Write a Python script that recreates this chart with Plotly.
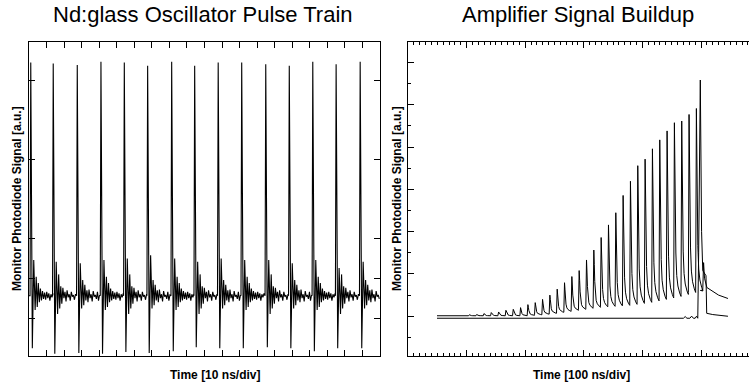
import plotly.graph_objects as go

# ---------------- Left panel: Nd:glass oscillator pulse train ----------------
# pulse peak times [div], peak heights, trough depths, secondary (ring) peaks [a.u.]
osc_peak_t = [0.10, 1.38, 2.75, 4.10, 5.43, 6.76, 8.13, 9.44, 10.78, 12.12, 13.49, 14.83, 16.17, 17.50, 18.87]
osc_peak_v = [3.22, 3.21, 3.19, 3.23, 3.22, 3.18, 3.23, 3.18, 3.22, 3.22, 3.20, 3.18, 3.23, 3.20, 3.23]
osc_trough_v = [-0.38, -0.45, -0.44, -0.45, -0.43, -0.44, -0.42, -0.37, -0.38, -0.38, -0.37, -0.38, -0.42, -0.38, -0.38]
osc_ring_v = [0.73, 0.71, 0.69, 0.73, 0.75, 0.79, 0.75, 0.71, 0.75, 0.73, 0.73, 0.69, 0.73, 0.63, 0.71]
osc_baseline = 0.28
# ringing / noise after each pulse (time offsets after the peak)
ring_dt = [0.25, 0.31, 0.37, 0.43, 0.49, 0.55, 0.61, 0.67, 0.73, 0.79, 0.85, 0.91, 0.97, 1.03, 1.09, 1.15, 1.21, 1.27]
ring_a = [0.10, 0.52, 0.14, 0.44, 0.20, 0.37, 0.22, 0.34, 0.24, 0.32, 0.23, 0.33, 0.25, 0.31, 0.22, 0.30, 0.26, 0.31]
ring_b = [0.05, 0.55, 0.12, 0.40, 0.18, 0.38, 0.25, 0.33, 0.21, 0.35, 0.26, 0.30, 0.22, 0.33, 0.27, 0.29, 0.23, 0.30]
ring_c = [0.12, 0.48, 0.16, 0.42, 0.22, 0.35, 0.20, 0.36, 0.25, 0.30, 0.21, 0.34, 0.27, 0.29, 0.24, 0.33, 0.22, 0.29]
osc_yticks = [0, 0.5, 1, 2, 3]

# ---------------- Right panel: amplifier signal buildup ----------------
buildup_t = [0.546, 0.671, 0.796, 0.921, 1.046, 1.171, 1.296, 1.421, 1.546, 1.671, 1.796, 1.921,
             2.046, 2.171, 2.296, 2.421, 2.546, 2.671, 2.796, 2.921, 3.046, 3.171, 3.296, 3.421,
             3.546, 3.671, 3.796, 3.921, 4.046, 4.171, 4.296, 4.421, 4.546, 4.671, 4.796, 4.921]
buildup_peak = [0.012, 0.016, 0.023, 0.028, 0.035, 0.040, 0.063, 0.087, 0.101, 0.141, 0.164, 0.204,
                0.275, 0.322, 0.399, 0.500, 0.641, 0.793, 0.939, 1.080, 1.331, 1.566, 1.862, 2.160,
                2.448, 2.857, 3.192, 3.561, 3.716, 3.960, 4.171, 4.383, 4.577, 4.617, 4.772, 4.913]
buildup_valley = [0.012, 0.012, 0.012, 0.012, 0.012, 0.012, 0.012, 0.012, 0.012, 0.012, 0.012, 0.012,
                  0.023, 0.035, 0.050, 0.070, 0.094, 0.117, 0.141, 0.164, 0.188, 0.211, 0.223, 0.235,
                  0.246, 0.258, 0.282, 0.305, 0.329, 0.364, 0.399, 0.434, 0.469, 0.516, 0.563, 0.599]
pulse_dt = [-0.012, 0.0, 0.008, 0.016, 0.025, 0.040, 0.060, 0.090, 0.113]
pulse_frac = [0.0, 1.0, 0.75, 0.45, 0.25, 0.12, 0.06, 0.02, 0.0]
trace1_start = [0.495, 0.012]
trace1_tail_t = [4.990, 5.030, 5.044, 5.060, 5.100, 5.200, 5.300, 5.460]
trace1_tail_v = [0.610, 0.620, 1.268, 0.900, 0.680, 0.580, 0.500, 0.420]
trace2_t = [0.495, 4.700, 4.730, 4.760, 4.810, 4.840, 4.870, 4.900, 4.925, 4.945, 4.960, 4.988,
            5.010, 5.030, 5.085, 5.097, 5.200, 5.460]
trace2_v = [-0.047, -0.047, -0.007, -0.047, -0.047, 0.003, -0.047, -0.047, 0.003, -0.047, 1.500, 5.587,
            2.000, 1.080, 0.960, 0.070, 0.040, 0.000]


def build_osc():
    xs, ys = [0.0], [osc_baseline]
    variants = [ring_a, ring_b, ring_c]
    for k, t in enumerate(osc_peak_t):
        if t - 0.04 > 0:
            xs.append(t - 0.04); ys.append(osc_baseline)
        xs += [t, t + 0.09, t + 0.17]
        ys += [osc_peak_v[k], osc_trough_v[k], osc_ring_v[k]]
        rv = variants[k % 3]
        for dt, v in zip(ring_dt, rv):
            if t + dt <= 20:
                xs.append(t + dt); ys.append(v)
    return xs, ys


def build_buildup():
    xs, ys = [trace1_start[0]], [trace1_start[1]]
    for t, p, v in zip(buildup_t, buildup_peak, buildup_valley):
        for dt, f in zip(pulse_dt, pulse_frac):
            xs.append(t + dt)
            ys.append(v + f * (p - v))
    xs += trace1_tail_t
    ys += trace1_tail_v
    return xs, ys


W, H = 749, 387
def px(x):
    return x / W
def py(y):
    return 1 - y / H

ox, oy = build_osc()
bx, by = build_buildup()

fig = go.Figure()
fig.add_trace(go.Scatter(x=ox, y=oy, mode="lines", line=dict(color="black", width=1.1),
                         xaxis="x", yaxis="y", hoverinfo="skip"))
fig.add_trace(go.Scatter(x=bx, y=by, mode="lines", line=dict(color="black", width=1),
                         xaxis="x2", yaxis="y2", hoverinfo="skip"))
fig.add_trace(go.Scatter(x=trace2_t, y=trace2_v, mode="lines", line=dict(color="black", width=1),
                         xaxis="x2", yaxis="y2", hoverinfo="skip"))

ax_common = dict(showgrid=False, zeroline=False, showticklabels=False, showline=True,
                 linecolor="black", linewidth=1.2, ticks="inside", tickcolor="black",
                 tickwidth=1)
ydom = [py(356), py(42)]
fig.update_layout(
    width=W, height=H, margin=dict(l=0, r=0, t=0, b=0),
    paper_bgcolor="white", plot_bgcolor="white", showlegend=False,
    xaxis=dict(domain=[px(29), px(380)], range=[0, 20], dtick=1, tick0=0, ticklen=6,
               mirror="ticks", anchor="y", **ax_common),
    yaxis=dict(domain=ydom, range=[-0.479, 3.48], tickvals=osc_yticks, ticklen=6,
               mirror="ticks", anchor="x", **ax_common),
    xaxis2=dict(domain=[px(408), 1.0], range=[0, 5.819], dtick=1, tick0=0, ticklen=6,
                mirror="ticks", anchor="y2",
                minor=dict(dtick=0.1, tick0=0, ticks="inside", ticklen=3, tickcolor="black"),
                **ax_common),
    yaxis2=dict(domain=ydom, range=[-0.94, 6.486], dtick=1, tick0=0, ticklen=6,
                mirror=False, anchor="x2",
                minor=dict(dtick=0.5, tick0=0, ticks="inside", ticklen=3, tickcolor="black"),
                **ax_common),
)

title_font = dict(family="Liberation Sans, Arial, sans-serif", size=22, color="black")
label_font = dict(family="Liberation Sans, Arial, sans-serif", size=12, color="black")
annots = [
    dict(text="Nd:glass Oscillator Pulse Train", x=px(203), y=py(15), font=title_font),
    dict(text="Amplifier Signal Buildup", x=px(578), y=py(15), font=title_font),
    dict(text="<b>Time [10 ns/div]</b>", x=px(215), y=py(375), font=label_font),
    dict(text="<b>Time [100 ns/div]</b>", x=px(581), y=py(375), font=label_font),
    dict(text="<b>Monitor Photodiode Signal [a.u.]</b>", x=px(17), y=py(199), textangle=-90, font=label_font),
    dict(text="<b>Monitor Photodiode Signal [a.u.]</b>", x=px(397), y=py(199), textangle=-90, font=label_font),
]
for a in annots:
    fig.add_annotation(xref="paper", yref="paper", showarrow=False, xanchor="center",
                       yanchor="middle", **a)

fig.write_html("out.html")
